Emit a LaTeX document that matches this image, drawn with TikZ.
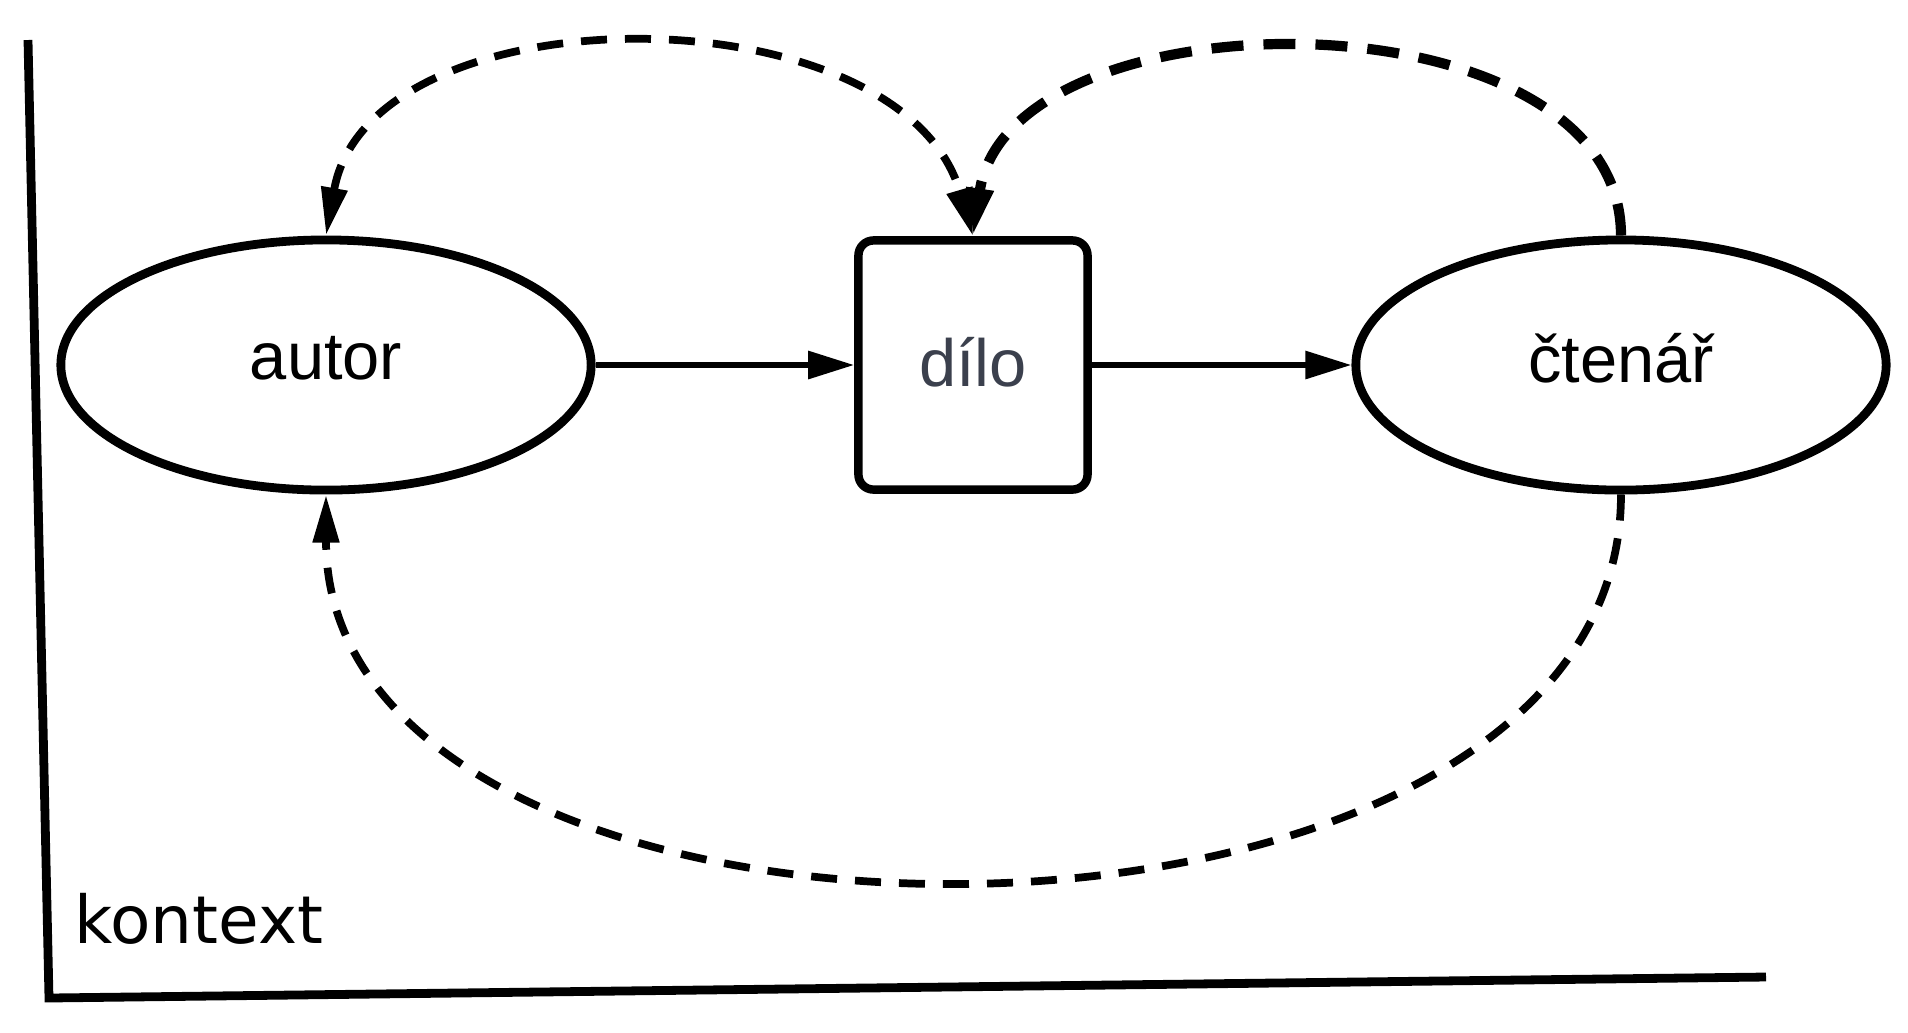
\documentclass[tikz,border=0pt]{standalone}
\usepackage{fontspec}
\setmainfont{Liberation Sans}
\newfontfamily\dejavu{DejaVu Sans}
\usetikzlibrary{arrows.meta,shapes.geometric}
\definecolor{ink}{HTML}{3B404D}

\begin{document}
\begin{tikzpicture}[x=0.01cm,y=-0.01cm,
    party/.style={ellipse,draw,line width=2.5pt,minimum width=5.3cm,minimum height=2.5cm,
      text depth=0.14cm,font=\fontsize{19}{23}\selectfont},
    work/.style={rectangle,draw,rounded corners=0.15cm,line width=2.4pt,minimum width=2.29cm,
      minimum height=2.49cm,text depth=0.06cm,font=\fontsize{19}{23}\selectfont,text=ink},
    flow/.style={line width=1.7pt,-{Triangle[length=0.46cm,width=0.27cm]}},
    back/.style={line width=2.2pt,dash pattern=on 0.26cm off 0.18cm,
      -{Triangle[length=0.48cm,width=0.25cm]}},
    frame/.style={line width=2.5pt}]
  \useasboundingbox (0,0) rectangle (1908,1032);

  % context frame
  \draw[frame] (28,40) -- (49,998) -- (1766,977);
  \node[font=\dejavu\fontsize{18.8}{22}\selectfont,anchor=base west] (kontext) at (62,943) {kontext};

  % main chain
  \node[party] (autor) at (326,365) {autor};
  \node[work] (dilo) at (973,365) {dílo};
  \node[party] (ctenar) at (1621,365) {čtenář};

  \draw[flow] (autor) -- (dilo);
  \draw[flow] (dilo) -- (ctenar);

  % feedback loops
  \draw[back,{Triangle[length=0.48cm,width=0.25cm]}-{Triangle[length=0.48cm,width=0.25cm]}]
    (autor.north) .. controls (370,-12) and (900,-12) .. (dilo.north);
  \draw[back,line width=2.9pt,dash pattern=on 0.32cm off 0.2cm]
    (ctenar.north) .. controls (1621,-12) and (1010,-12) .. (dilo.north);
  \draw[back] (ctenar.south) .. controls (1621,1006) and (326,1006) .. (autor.south);
\end{tikzpicture}
\end{document}
